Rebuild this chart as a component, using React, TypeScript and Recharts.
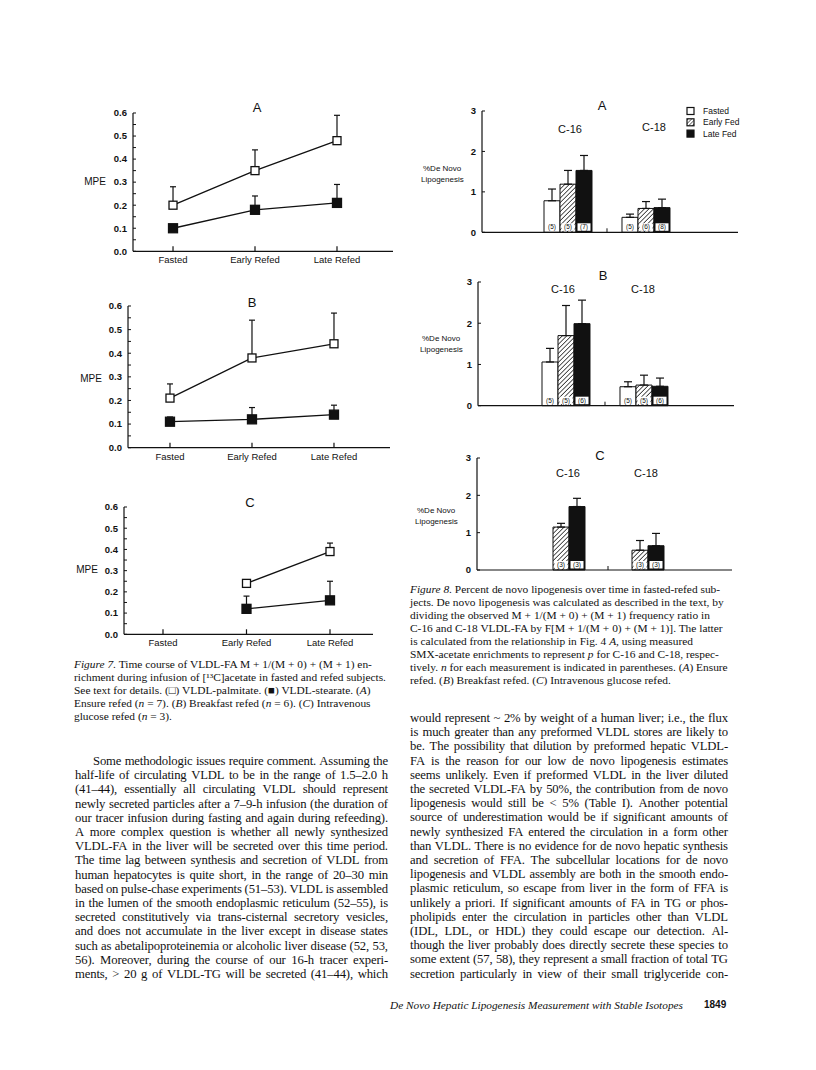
import React from "react";
import { LineChart, Line, BarChart, Bar, XAxis, YAxis, ErrorBar, LabelList } from "recharts";

const ink = "#111";
const sans = "'Liberation Sans', Arial, sans-serif";
const serif = "'Liberation Serif', 'Times New Roman', serif";

// ---- Figure 7: MPE time course ----
const phases = ["Fasted", "Early Refed", "Late Refed"];
const mpeTicks = [0, 0.05, 0.1, 0.15, 0.2, 0.25, 0.3, 0.35, 0.4, 0.45, 0.5, 0.55, 0.6];

const palmA = [0.2, 0.35, 0.48];
const palmSemA = [0.08, 0.09, 0.11];
const stearA = [0.1, 0.18, 0.21];
const stearSemA = [0.01, 0.06, 0.08];

const palmB = [0.21, 0.38, 0.44];
const palmSemB = [0.06, 0.16, 0.13];
const stearB = [0.11, 0.12, 0.14];
const stearSemB = [0.02, 0.05, 0.04];

const palmC = [null, 0.24, 0.39];
const palmSemC = [null, 0.01, 0.04];
const stearC = [null, 0.12, 0.16];
const stearSemC = [null, 0.06, 0.09];

// ---- Figure 8: % de novo lipogenesis ----
const acids = ["C-16", "C-18"];
const lipoTicks = [0, 1, 2, 3];

const fastedA = [0.78, 0.37];
const fastedSemA = [0.29, 0.08];
const earlyA = [1.19, 0.59];
const earlySemA = [0.34, 0.17];
const lateA = [1.53, 0.61];
const lateSemA = [0.37, 0.21];
const nFastedA = [5, 5];
const nEarlyA = [5, 6];
const nLateA = [7, 8];

const fastedB = [1.06, 0.46];
const fastedSemB = [0.33, 0.12];
const earlyB = [1.7, 0.5];
const earlySemB = [0.73, 0.24];
const lateB = [1.99, 0.47];
const lateSemB = [0.57, 0.2];
const nFastedB = [5, 5];
const nEarlyB = [5, 5];
const nLateB = [6, 6];

const earlyC = [1.15, 0.53];
const earlySemC = [0.1, 0.26];
const lateC = [1.7, 0.65];
const lateSemC = [0.22, 0.33];
const nEarlyC = [3, 3];
const nLateC = [3, 3];

const legendItems = ["Fasted", "Early Fed", "Late Fed"];

// ---- page text ----
const fig7Caption = [
  "*Figure 7.* Time course of VLDL-FA M + 1/(M + 0) + (M + 1) en-",
  "richment during infusion of [¹³C]acetate in fasted and refed subjects.",
  "See text for details. (□) VLDL-palmitate. (■) VLDL-stearate. (*A*)",
  "Ensure refed (*n* = 7). (*B*) Breakfast refed (*n* = 6). (*C*) Intravenous",
  "glucose refed (*n* = 3).",
];

const leftBody = [
  "Some methodologic issues require comment. Assuming the",
  "half-life of circulating VLDL to be in the range of 1.5–2.0 h",
  "(41–44), essentially all circulating VLDL should represent",
  "newly secreted particles after a 7–9-h infusion (the duration of",
  "our tracer infusion during fasting and again during refeeding).",
  "A more complex question is whether all newly synthesized",
  "VLDL-FA in the liver will be secreted over this time period.",
  "The time lag between synthesis and secretion of VLDL from",
  "human hepatocytes is quite short, in the range of 20–30 min",
  "based on pulse-chase experiments (51–53). VLDL is assembled",
  "in the lumen of the smooth endoplasmic reticulum (52–55), is",
  "secreted constitutively via trans-cisternal secretory vesicles,",
  "and does not accumulate in the liver except in disease states",
  "such as abetalipoproteinemia or alcoholic liver disease (52, 53,",
  "56). Moreover, during the course of our 16-h tracer experi-",
  "ments, > 20 g of VLDL-TG will be secreted (41–44), which",
];

const fig8Caption = [
  "*Figure 8.* Percent de novo lipogenesis over time in fasted-refed sub-",
  "jects. De novo lipogenesis was calculated as described in the text, by",
  "dividing the observed M + 1/(M + 0) + (M + 1) frequency ratio in",
  "C-16 and C-18 VLDL-FA by F[M + 1/(M + 0) + (M + 1)]. The latter",
  "is calculated from the relationship in Fig. 4 *A,* using measured",
  "SMX-acetate enrichments to represent *p* for C-16 and C-18, respec-",
  "tively. *n* for each measurement is indicated in parentheses. (*A*) Ensure",
  "refed. (*B*) Breakfast refed. (*C*) Intravenous glucose refed.",
];

const rightBody = [
  "would represent ~ 2% by weight of a human liver; i.e., the flux",
  "is much greater than any preformed VLDL stores are likely to",
  "be. The possibility that dilution by preformed hepatic VLDL-",
  "FA is the reason for our low de novo lipogenesis estimates",
  "seems unlikely. Even if preformed VLDL in the liver diluted",
  "the secreted VLDL-FA by 50%, the contribution from de novo",
  "lipogenesis would still be < 5% (Table I). Another potential",
  "source of underestimation would be if significant amounts of",
  "newly synthesized FA entered the circulation in a form other",
  "than VLDL. There is no evidence for de novo hepatic synthesis",
  "and secretion of FFA. The subcellular locations for de novo",
  "lipogenesis and VLDL assembly are both in the smooth endo-",
  "plasmic reticulum, so escape from liver in the form of FFA is",
  "unlikely a priori. If significant amounts of FA in TG or phos-",
  "pholipids enter the circulation in particles other than VLDL",
  "(IDL, LDL, or HDL) they could escape our detection. Al-",
  "though the liver probably does directly secrete these species to",
  "some extent (57, 58), they represent a small fraction of total TG",
  "secretion particularly in view of their small triglyceride con-",
];

// words wrapped in *...* are italic
function wordParts(word: string, state: { it: boolean }) {
  const bits = word.split("*");
  const out: React.ReactNode[] = [];
  bits.forEach((b, i) => {
    if (i > 0) state.it = !state.it;
    if (b) out.push(<span key={i} style={{ fontStyle: state.it ? "italic" : "normal" }}>{b}</span>);
  });
  return out;
}

function TextLine({ text, x, y, w, size, lh, justify, indent = 0, ls = 0 }: any) {
  const state = { it: false };
  const words = text.split(" ");
  const base: any = { position: "absolute", left: x + indent, top: y - lh / 2, height: lh, lineHeight: `${lh}px`, whiteSpace: "nowrap", fontSize: size, letterSpacing: ls };
  if (justify) {
    return (
      <div style={{ ...base, width: w - indent, display: "flex", justifyContent: "space-between" }}>
        {words.map((wd: string, i: number) => <span key={i}>{wordParts(wd, state)}</span>)}
      </div>
    );
  }
  return (
    <div style={base}>
      {words.map((wd: string, i: number) => <span key={i}>{i > 0 ? " " : ""}{wordParts(wd, state)}</span>)}
    </div>
  );
}

function Label({ x, y, text, size, bold = false, align = "center" }: any) {
  return (
    <div style={{ position: "absolute", left: x, top: y, transform: align === "center" ? "translate(-50%, -50%)" : "translate(0, -50%)", fontFamily: sans, fontSize: size, fontWeight: bold ? 700 : 400, color: ink, whiteSpace: "nowrap", lineHeight: 1 }}>
      {text}
    </div>
  );
}

function Square({ cx, cy, filled }: any) {
  if (cx == null || cy == null) return null;
  const s = filled ? 9 : 8;
  return <rect x={cx - s / 2} y={cy - s / 2} width={s} height={s} fill={filled ? ink : "#fff"} stroke={ink} strokeWidth={1.3} />;
}

function MpePanel({ box, xDomain, palm, palmSem, stear, stearSem }: any) {
  const rows = phases
    .map((_, i) => ({ x: i, p: palm[i], pe: [0, palmSem[i]], s: stear[i], se: [0, stearSem[i]] }))
    .filter((r) => r.p != null);
  const ml = 70, mt = 15, mr = 10, xh = 30;
  return (
    <div style={{ position: "absolute", left: box.x - ml, top: box.y - mt }}>
      <LineChart width={box.w + ml + mr} height={box.h + mt + xh} data={rows} margin={{ top: mt, right: mr, bottom: 0, left: 0 }}>
        <XAxis
          type="number"
          dataKey="x"
          domain={xDomain}
          ticks={[0, 1, 2]}
          allowDataOverflow
          interval={0}
          height={xh}
          tickSize={0}
          tickMargin={0}
          tickLine={false}
          axisLine={{ stroke: ink, strokeWidth: 1.2 }}
          tick={(p: any) => (
            <g>
              <line x1={p.x} x2={p.x} y1={p.y} y2={p.y - 5} stroke={ink} strokeWidth={1.2} />
              <text x={p.x} y={p.y + 12} textAnchor="middle" fontFamily={sans} fontSize={9.5} fill={ink}>
                {phases[p.payload.value]}
              </text>
            </g>
          )}
        />
        <YAxis
          type="number"
          domain={[0, 0.6]}
          ticks={mpeTicks}
          interval={0}
          width={ml}
          tickSize={0}
          tickMargin={0}
          tickLine={false}
          axisLine={{ stroke: ink, strokeWidth: 1.2 }}
          tick={(p: any) => {
            const v = p.payload.value;
            const major = Math.abs(v * 10 - Math.round(v * 10)) < 1e-6;
            return (
              <g>
                <line x1={p.x} x2={p.x + 3} y1={p.y} y2={p.y} stroke={ink} strokeWidth={1} />
                {major && (
                  <text x={p.x - 6} y={p.y} dy="0.35em" textAnchor="end" fontFamily={sans} fontSize={9.5} fontWeight={700} fill={ink}>
                    {v.toFixed(1)}
                  </text>
                )}
              </g>
            );
          }}
        />
        <Line dataKey="s" stroke={ink} strokeWidth={1.3} isAnimationActive={false} dot={(p: any) => <Square key={p.index} cx={p.cx} cy={p.cy} filled />}>
          <ErrorBar dataKey="se" direction="y" width={3} stroke={ink} strokeWidth={1.2} />
        </Line>
        <Line dataKey="p" stroke={ink} strokeWidth={1.3} isAnimationActive={false} dot={(p: any) => <Square key={p.index} cx={p.cx} cy={p.cy} />}>
          <ErrorBar dataKey="pe" direction="y" width={3} stroke={ink} strokeWidth={1.2} />
        </Line>
      </LineChart>
    </div>
  );
}

function NLabel(props: any) {
  const vb = props.viewBox || props;
  const { x, y, width, height } = vb;
  if (x == null) return null;
  const cx = x + width / 2;
  const by = y + height;
  return (
    <g>
      <rect x={cx - 6.5} y={by - 9} width={13} height={7.5} fill="#fff" />
      <text x={cx} y={by - 3} textAnchor="middle" fontFamily={sans} fontSize={6.5} fill={ink}>{props.value}</text>
    </g>
  );
}

function LipoPanel({ id, box, pad, series }: any) {
  const rows = acids.map((name, i) => {
    const r: any = { name };
    series.forEach((s: any) => {
      r[s.key] = s.values[i];
      r[s.key + "E"] = [0, s.sem[i]];
      r[s.key + "N"] = `(${s.n[i]})`;
    });
    return r;
  });
  const ml = 40, mt = 8, mr = 6, xh = 12;
  const fills: any = { fasted: "#fff", early: `url(#hatch-${id})`, late: ink };
  return (
    <div style={{ position: "absolute", left: box.x - ml, top: box.y - mt }}>
      <BarChart width={box.w + ml + mr} height={box.h + mt + xh} data={rows} margin={{ top: mt, right: mr, bottom: 0, left: 0 }} barGap={0}>
        <defs>
          <pattern id={`hatch-${id}`} width="3.2" height="3.2" patternUnits="userSpaceOnUse" patternTransform="rotate(45)">
            <rect width="3.2" height="3.2" fill="#fff" />
            <line x1="0" y1="0" x2="0" y2="3.2" stroke={ink} strokeWidth="1.4" />
          </pattern>
        </defs>
        <XAxis
          dataKey="name"
          padding={pad}
          height={xh}
          tickSize={0}
          tickMargin={0}
          tickLine={false}
          interval={0}
          axisLine={{ stroke: ink, strokeWidth: 1.2 }}
          tick={(p: any) =>
            p.index === 0 && p.payload.offset ? (
              <line x1={p.x + p.payload.offset} x2={p.x + p.payload.offset} y1={p.y} y2={p.y - 4} stroke={ink} strokeWidth={1} />
            ) : (
              <g />
            )
          }
        />
        <YAxis
          type="number"
          domain={[0, 3]}
          ticks={lipoTicks}
          interval={0}
          width={ml}
          tickSize={0}
          tickMargin={0}
          tickLine={false}
          axisLine={{ stroke: ink, strokeWidth: 1.2 }}
          tick={(p: any) => (
            <g>
              <line x1={p.x} x2={p.x + 3} y1={p.y} y2={p.y} stroke={ink} strokeWidth={1} />
              <text x={p.x - 6} y={p.y} dy="0.35em" textAnchor="end" fontFamily={sans} fontSize={9.5} fontWeight={700} fill={ink}>
                {p.payload.value}
              </text>
            </g>
          )}
        />
        {series.map((s: any) => (
          <Bar key={s.key} dataKey={s.key} barSize={16} fill={fills[s.key]} stroke={ink} strokeWidth={1} isAnimationActive={false}>
            <ErrorBar dataKey={s.key + "E"} direction="y" width={4} stroke={ink} strokeWidth={1.2} />
            <LabelList dataKey={s.key + "N"} content={NLabel} />
          </Bar>
        ))}
      </BarChart>
    </div>
  );
}

function Legend() {
  return (
    <svg style={{ position: "absolute", left: 684, top: 104 }} width={70} height={36}>
      <defs>
        <pattern id="hatch-leg" width="2.6" height="2.6" patternUnits="userSpaceOnUse" patternTransform="rotate(45)">
          <rect width="2.6" height="2.6" fill="#fff" />
          <line x1="0" y1="0" x2="0" y2="2.6" stroke={ink} strokeWidth="1.1" />
        </pattern>
      </defs>
      {legendItems.map((t, i) => (
        <g key={t}>
          <rect x={3} y={3.5 + i * 11.3} width={7} height={7} fill={i === 0 ? "#fff" : i === 1 ? "url(#hatch-leg)" : ink} stroke={ink} strokeWidth={1.2} />
          <text x={19} y={7 + i * 11.3} dy="0.35em" fontFamily={sans} fontSize={8.5} fill={ink}>{t}</text>
        </g>
      ))}
    </svg>
  );
}

export default function App() {
  return (
    <div style={{ position: "absolute", left: 0, top: 0, width: 816, height: 1070, background: "#fff", fontFamily: serif, color: ink, overflow: "hidden" }}>
      {/* Figure 7 */}
      <MpePanel box={{ x: 133, y: 112.7, w: 260, h: 138.3 }} xDomain={[-0.488, 2.683]} palm={palmA} palmSem={palmSemA} stear={stearA} stearSem={stearSemA} />
      <MpePanel box={{ x: 128, y: 306, w: 262, h: 141.7 }} xDomain={[-0.512, 2.683]} palm={palmB} palmSem={palmSemB} stear={stearB} stearSem={stearSemB} />
      <MpePanel box={{ x: 124, y: 506.7, w: 249, h: 127.3 }} xDomain={[-0.467, 2.515]} palm={palmC} palmSem={palmSemC} stear={stearC} stearSem={stearSemC} />
      <Label x={257} y={107} text="A" size={13} />
      <Label x={252} y={302} text="B" size={13} />
      <Label x={250} y={502} text="C" size={13} />
      <Label x={95} y={182} text="MPE" size={10} />
      <Label x={91} y={379} text="MPE" size={10} />
      <Label x={87} y={570} text="MPE" size={10} />

      {/* Figure 8 */}
      <LipoPanel
        id="a"
        box={{ x: 482, y: 111, w: 256, h: 121.3 }}
        pad={{ left: 47, right: 53 }}
        series={[
          { key: "fasted", values: fastedA, sem: fastedSemA, n: nFastedA },
          { key: "early", values: earlyA, sem: earlySemA, n: nEarlyA },
          { key: "late", values: lateA, sem: lateSemA, n: nLateA },
        ]}
      />
      <LipoPanel
        id="b"
        box={{ x: 478, y: 282.3, w: 256, h: 123.7 }}
        pad={{ left: 49, right: 51 }}
        series={[
          { key: "fasted", values: fastedB, sem: fastedSemB, n: nFastedB },
          { key: "early", values: earlyB, sem: earlySemB, n: nEarlyB },
          { key: "late", values: lateB, sem: lateSemB, n: nLateB },
        ]}
      />
      <LipoPanel
        id="c"
        box={{ x: 477, y: 458, w: 255, h: 112 }}
        pad={{ left: 52, right: 45 }}
        series={[
          { key: "early", values: earlyC, sem: earlySemC, n: nEarlyC },
          { key: "late", values: lateC, sem: lateSemC, n: nLateC },
        ]}
      />
      <Legend />
      <Label x={602} y={105} text="A" size={13} />
      <Label x={603} y={275} text="B" size={13} />
      <Label x={600} y={455} text="C" size={13} />
      <Label x={570} y={129} text="C-16" size={11} />
      <Label x={654} y={127} text="C-18" size={11} />
      <Label x={563} y={289} text="C-16" size={11} />
      <Label x={643} y={289} text="C-18" size={11} />
      <Label x={568} y={473} text="C-16" size={11} />
      <Label x={646} y={473} text="C-18" size={11} />
      {[
        [423, 169, 180],
        [422, 339, 350],
        [417, 511, 522],
      ].map(([x, y1, y2]) => (
        <React.Fragment key={y1}>
          <Label x={x} y={y1} text="%De Novo" size={8} align="left" />
          <Label x={x - 2} y={y2} text="Lipogenesis" size={8} align="left" />
        </React.Fragment>
      ))}

      {/* captions and body text */}
      {fig7Caption.map((t, i) => (
        <TextLine key={t} text={t} x={74} y={664 + i * 13.2} w={314} size={11.4} lh={13} />
      ))}
      {leftBody.map((t, i) => (
        <TextLine key={t} text={t} x={75} y={761 + i * 14.2} w={313} size={12.7} lh={14} justify indent={i === 0 ? 18 : 0} ls={-0.15} />
      ))}
      {fig8Caption.map((t, i) => (
        <TextLine key={t} text={t} x={410} y={589 + i * 13.1} w={318} size={11.4} lh={13} />
      ))}
      {rightBody.map((t, i) => (
        <TextLine key={t} text={t} x={410} y={718 + i * 14.2} w={318} size={12.7} lh={14} justify ls={-0.15} />
      ))}
      <div style={{ position: "absolute", left: 390, top: 997, fontStyle: "italic", fontSize: 11.3, lineHeight: "16px", whiteSpace: "nowrap" }}>
        De Novo Hepatic Lipogenesis Measurement with Stable Isotopes
      </div>
      <div style={{ position: "absolute", left: 704, top: 999, fontFamily: sans, fontWeight: 700, fontSize: 10, lineHeight: "12px" }}>1849</div>
    </div>
  );
}
